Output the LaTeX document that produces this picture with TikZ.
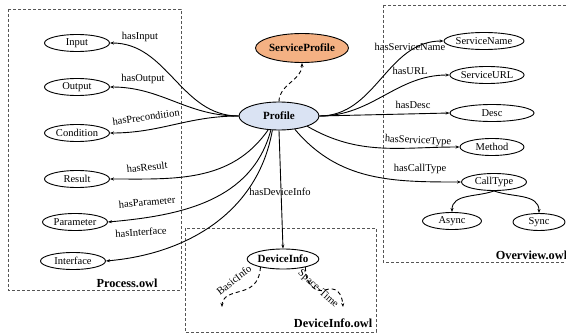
\documentclass[tikz,border=0pt]{standalone}
\usepackage{fontspec}
\setmainfont{Liberation Serif}
\usepackage{xcolor}
\usetikzlibrary{arrows.meta,shapes.geometric}
\definecolor{profblue}{HTML}{DAE3F3}
\definecolor{proforange}{HTML}{F4B183}
\definecolor{boxgray}{HTML}{555555}

\begin{document}
\begin{tikzpicture}[x=1pt, y=1pt, >={Stealth[length=4pt,width=3pt]}, line width=0.9pt,
  concept/.style={ellipse, draw, inner sep=0pt, minimum width=65pt, minimum height=17pt, font=\fontsize{10.5}{12}\selectfont},
  keyconcept/.style={concept, font=\fontsize{11}{12}\selectfont\bfseries},
  owlbox/.style={draw=boxgray, dashed, dash pattern=on 3pt off 2pt, line width=0.8pt},
  owltitle/.style={font=\fontsize{12.3}{14}\selectfont\bfseries},
  rel/.style={font=\fontsize{10.5}{12}\selectfont, inner sep=1pt}]
  \useasboundingbox (0,0) rectangle (566,333);

  % ontology files
  \draw[owlbox] (8,324) rectangle (181,43);
  \draw[owlbox] (383,328) rectangle (580,71);
  \draw[owlbox] (185,105) rectangle (376,1);
  \node[owltitle] (processtitle) at (127,50) {Process.owl};
  \node[owltitle, anchor=west] (overviewtitle) at (492,78) {Overview.owl};
  \node[owltitle, anchor=east] (devicetitle) at (376,10) {DeviceInfo.owl};

  % central concepts
  \node[keyconcept, fill=profblue, minimum width=80pt, minimum height=28pt] (profile) at (279,217) {Profile};
  \node[keyconcept, fill=proforange, minimum width=90pt, minimum height=29pt] (srvprofile) at (302,285) {ServiceProfile};
  \node[keyconcept, minimum width=69pt, minimum height=20pt] (devinfo) at (283,74) {DeviceInfo};

  % process concepts
  \node[concept] (input) at (77,290) {Input};
  \node[concept] (output) at (77,246) {Output};
  \node[concept] (condition) at (77,200) {Condition};
  \node[concept] (result) at (77,154) {Result};
  \node[concept] (parameter) at (75,111) {Parameter};
  \node[concept] (interface) at (73,72) {Interface};

  % overview concepts
  \node[concept, minimum width=69pt] (svcname) at (484,292) {ServiceName};
  \node[concept, minimum width=64pt] (svcurl) at (487,258) {ServiceURL};
  \node[concept, minimum width=84pt] (desc) at (492,220) {Desc};
  \node[concept, minimum width=64pt] (method) at (492,186) {Method};
  \node[concept] (calltype) at (494,151) {CallType};
  \node[concept, minimum width=59pt] (async) at (452,112) {Async};
  \node[concept, minimum width=52pt] (sync) at (539,111) {Sync};

  % profile to service profile
  \draw[->, dashed, dash pattern=on 4pt off 3pt] (profile.north) to[out=90, in=-90] (srvprofile.south);

  % process relations
  \draw[->] (profile.west) to[out=180, in=0] (input.east);
  \draw[->] (profile.west) to[out=180, in=0] (output.east);
  \draw[->] (profile.west) to[out=180, in=0] (condition.east);
  \draw[->] (profile.232) to[out=235, in=0] (result.east);
  \draw[->] (profile.240) to[out=255, in=5] (parameter.east);
  \draw[->] (profile.245) to[out=260, in=5] (interface.east);
  \node[rel] (lblinput) at (140,296) {hasInput};
  \node[rel] (lbloutput) at (143,254) {hasOutput};
  \node[rel, rotate=8] (lblcond) at (146,216) {hasPrecondition};
  \node[rel, rotate=6] (lblresult) at (147,166) {hasResult};
  \node[rel, rotate=5] (lblparam) at (147,131) {hasParameter};
  \node[rel, rotate=4] (lbliface) at (141,101) {hasInterface};

  % overview relations
  \draw[->] (profile.east) to[out=0, in=180] (svcname.west);
  \draw[->] (profile.east) to[out=0, in=180] (svcurl.west);
  \draw[->] (profile.east) -- (desc.west);
  \draw[->] (profile.-20) to[out=-30, in=180] (method.west);
  \draw[->] (profile.-40) to[out=-50, in=180] (calltype.west);
  \draw[->] (calltype.south) to[out=200, in=90] (async.north);
  \draw[->] (calltype.south) to[out=-20, in=90] (sync.north);
  \node[rel] (lblname) at (410,286) {hasServiceName};
  \node[rel] (lblurl) at (410,262) {hasURL};
  \node[rel] (lbldesc) at (413,228) {hasDesc};
  \node[rel, rotate=-3] (lbltype) at (418,192) {hasServiceType};
  \node[rel] (lblcall) at (420,164) {hasCallType};

  % device info relations
  \draw[->] (profile.south) -- (devinfo.north);
  \node[rel] (lbldevice) at (280,141) {hasDeviceInfo};
  \coordinate (basicend) at (222,26);
  \coordinate (spaceend) at (343,26);
  \draw[->, dashed, dash pattern=on 4pt off 3pt] (devinfo.200) .. controls (259,48) and (250,44) .. (238,41) .. controls (226,38) and (222,34) .. (basicend);
  \draw[->, dashed, dash pattern=on 4pt off 3pt] (devinfo.-20) .. controls (305,48) and (316,40) .. (325,43) .. controls (336,47) and (342,40) .. (spaceend);
  \node[rel, rotate=38] (lblbasic) at (234,53) {BasicInfo};
  \node[rel, rotate=-42] (lblspace) at (318,44) {Space-Time};
\end{tikzpicture}
\end{document}
